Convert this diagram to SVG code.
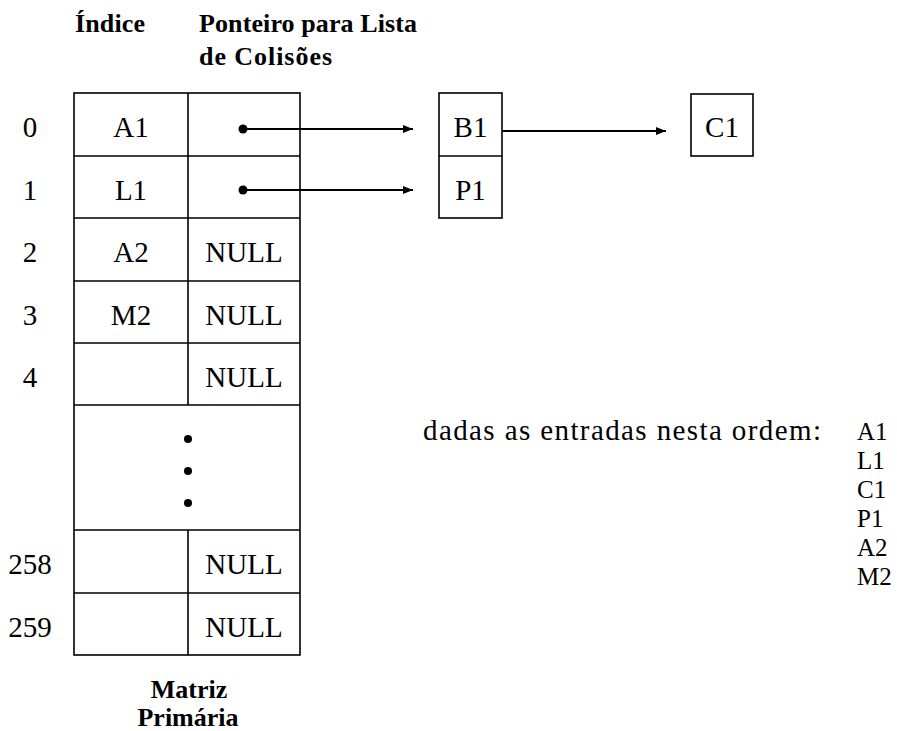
<svg xmlns="http://www.w3.org/2000/svg" width="897" height="731" viewBox="0 0 897 731">
<style>
.bg{fill:#fff}
.box{fill:#fff;stroke:#000;stroke-width:1.6}
.ln{stroke:#000;stroke-width:1.6;fill:none}
.t{font-family:"Liberation Serif","Times New Roman",serif;font-size:29px;fill:#000}
.c{text-anchor:middle}
.s{font-size:25px}
.h{font-family:"Liberation Serif","Times New Roman",serif;font-size:26px;font-weight:bold;fill:#000}
.dot{fill:#000}
.arr{stroke:#000;stroke-width:1.8;fill:none;marker-end:url(#ah)}
</style>
<defs>
<marker id="ah" markerUnits="userSpaceOnUse" markerWidth="10" markerHeight="8" refX="10" refY="4" orient="auto">
<path d="M0,0 L10,4 L0,8 Z" fill="#000"/>
</marker>
</defs>
<rect class="bg" x="0" y="0" width="897" height="731"/>

<g id="headers">
<text class="h" x="75" y="32" textLength="70">Índice</text>
<text class="h" x="199" y="32" textLength="218">Ponteiro para Lista</text>
<text class="h" x="199" y="65" textLength="133">de Colisões</text>
</g>

<g id="primary-matrix">
<rect class="box" x="74" y="93" width="226" height="562"/>
<path class="ln" d="M188,93 V405 M188,530 V655 M74,156 H300 M74,218 H300 M74,281 H300 M74,343 H300 M74,405 H300 M74,530 H300 M74,593 H300"/>
<g id="row-labels">
<text class="t c" x="30" y="137">0</text>
<text class="t c" x="30" y="200">1</text>
<text class="t c" x="30" y="262">2</text>
<text class="t c" x="30" y="325">3</text>
<text class="t c" x="30" y="387">4</text>
<text class="t c" x="30" y="574">258</text>
<text class="t c" x="30" y="637">259</text>
</g>
<g id="cells">
<text class="t c" x="131" y="137">A1</text>
<text class="t c" x="131" y="200">L1</text>
<text class="t c" x="131" y="262">A2</text>
<text class="t c" x="244" y="262">NULL</text>
<text class="t c" x="131" y="325">M2</text>
<text class="t c" x="244" y="325">NULL</text>
<text class="t c" x="244" y="387">NULL</text>
<text class="t c" x="244" y="574">NULL</text>
<text class="t c" x="244" y="637">NULL</text>
</g>
<g id="ellipsis">
<circle class="dot" cx="188" cy="439" r="4"/>
<circle class="dot" cx="188" cy="471" r="4"/>
<circle class="dot" cx="188" cy="503" r="4"/>
</g>
</g>

<g id="list-B1-P1">
<rect class="box" x="439" y="93" width="63" height="125"/>
<path class="ln" d="M439,156 H502"/>
<text class="t c" x="470.5" y="137">B1</text>
<text class="t c" x="470.5" y="200">P1</text>
</g>

<g id="node-C1">
<rect class="box" x="691" y="94" width="62" height="62"/>
<text class="t c" x="722" y="137">C1</text>
</g>

<g id="connectors">
<circle class="dot" cx="243" cy="129" r="4.5"/>
<path class="arr" d="M243,129 H413"/>
<circle class="dot" cx="243" cy="190" r="4.5"/>
<path class="arr" d="M243,190 H413"/>
<path class="arr" d="M502,131 H666"/>
</g>

<g id="caption">
<text class="h c" x="189" y="698">Matriz</text>
<text class="h c" x="188" y="726">Primária</text>
</g>

<g id="entries">
<text class="t" x="423" y="440" textLength="398">dadas as entradas nesta ordem:</text>
<text class="t s" x="857" y="440">A1</text>
<text class="t s" x="857" y="469">L1</text>
<text class="t s" x="857" y="498">C1</text>
<text class="t s" x="857" y="527">P1</text>
<text class="t s" x="857" y="556">A2</text>
<text class="t s" x="857" y="585">M2</text>
</g>
</svg>
